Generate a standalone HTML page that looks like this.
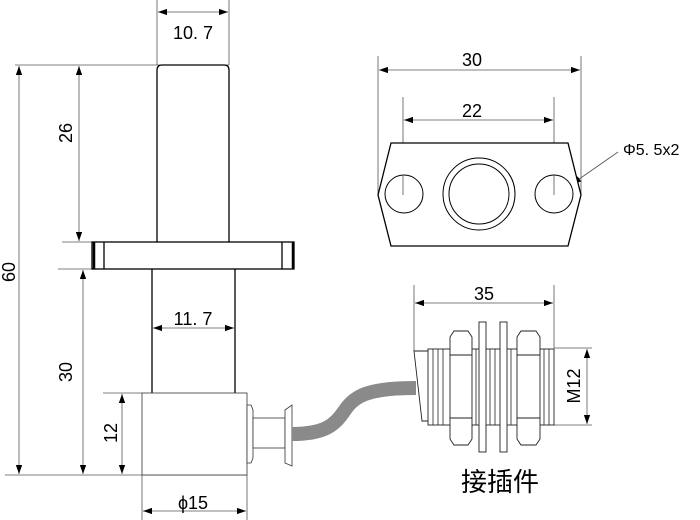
<!DOCTYPE html>
<html><head><meta charset="utf-8"><style>html,body{margin:0;padding:0;background:#fff}svg{display:block}</style></head><body>
<svg width="700" height="520" viewBox="0 0 700 520" xmlns="http://www.w3.org/2000/svg" font-family="Liberation Sans, Noto Sans CJK SC, sans-serif" fill="none">
<defs>
<marker id="a" viewBox="0 0 10 10" refX="10" refY="5" markerWidth="9" markerHeight="9" orient="auto-start-reverse" markerUnits="userSpaceOnUse"><path d="M0,1.5 L10,5 L0,8.5z" fill="#000"/></marker>
</defs>
<g stroke="#555" stroke-width="0.8">
<line x1="157" y1="0" x2="157" y2="65"/><line x1="229" y1="0" x2="229" y2="65"/>
<line x1="15" y1="65" x2="229" y2="65"/>
<line x1="62" y1="242" x2="92" y2="242"/><line x1="58" y1="269" x2="92" y2="269"/>
<line x1="103" y1="393" x2="142" y2="393"/>
<line x1="5" y1="475" x2="247" y2="475"/>
<line x1="142" y1="475" x2="142" y2="520"/><line x1="247" y1="475" x2="247" y2="520"/>
<line x1="158" y1="12" x2="228" y2="12" marker-start="url(#a)" marker-end="url(#a)"/>
<line x1="19" y1="66" x2="19" y2="474" marker-start="url(#a)" marker-end="url(#a)"/>
<line x1="79" y1="66" x2="79" y2="241" marker-start="url(#a)" marker-end="url(#a)"/>
<line x1="83" y1="270" x2="83" y2="474" marker-start="url(#a)" marker-end="url(#a)"/>
<line x1="122" y1="394" x2="122" y2="474" marker-start="url(#a)" marker-end="url(#a)"/>
<line x1="153" y1="328" x2="234" y2="328" marker-start="url(#a)" marker-end="url(#a)"/>
<line x1="143" y1="511" x2="246" y2="511" marker-start="url(#a)" marker-end="url(#a)"/>
<line x1="378" y1="56" x2="378" y2="195"/><line x1="581" y1="56" x2="581" y2="195"/>
<line x1="379" y1="70" x2="580" y2="70" marker-start="url(#a)" marker-end="url(#a)"/>
<line x1="403" y1="97" x2="403" y2="195"/><line x1="554" y1="97" x2="554" y2="195"/>
<line x1="404" y1="120" x2="553" y2="120" marker-start="url(#a)" marker-end="url(#a)"/>
<line x1="618" y1="152" x2="572" y2="184" marker-end="url(#a)"/>
<line x1="414" y1="285" x2="414" y2="351"/><line x1="554" y1="285" x2="554" y2="348"/>
<line x1="415" y1="303" x2="553" y2="303" marker-start="url(#a)" marker-end="url(#a)"/>
<line x1="554" y1="348" x2="592" y2="348"/><line x1="554" y1="425" x2="592" y2="425"/>
<line x1="587" y1="349" x2="587" y2="424" marker-start="url(#a)" marker-end="url(#a)"/>
</g>
<g stroke="#000" stroke-width="1.3" fill="#fff">
<path d="M157,242 V70 Q157,65 162,65 H224 Q229,65 229,70 V242"/>
<rect x="92" y="242" width="202" height="27"/>
<line x1="104" y1="242" x2="104" y2="269"/><line x1="282" y1="242" x2="282" y2="269"/>
<line x1="94" y1="242" x2="94" y2="269" stroke-width="2.5"/><line x1="293" y1="242" x2="293" y2="269" stroke-width="2.5"/>
<line x1="152" y1="269" x2="152" y2="393"/><line x1="235" y1="269" x2="235" y2="393"/>
</g>
<g stroke="#333" stroke-width="0.8" fill="#fff">
<rect x="142" y="393" width="105" height="82"/>
<path d="M247,405 H251 L253,410 V458 L251,463 H247z"/>
<rect x="253" y="418" width="32" height="30"/>
<path d="M285,410 L292,405 V466 L285,463z"/>
</g>
<path d="M292,434 C325,434 335,425 345,410 C355,395 370,388 416,388" stroke="#8a8a8a" stroke-width="14"/>
<g stroke="#000" stroke-width="1" fill="#fff">
<path d="M391,143 H568 L581,195 L568,246 H391 L378,195z" stroke-width="1.3"/>
<circle cx="404" cy="194" r="19"/><circle cx="554" cy="194" r="19"/>
<circle cx="479" cy="194" r="36"/><circle cx="479" cy="194" r="30"/>
</g>
<g stroke="#555" stroke-width="0.8"><line x1="403" y1="175" x2="403" y2="195"/><line x1="554" y1="175" x2="554" y2="195"/></g>
<g stroke="#222" stroke-width="0.9" fill="#fff">
<path d="M414,351 H430 V421 H422z"/>
<rect x="428" y="349" width="126" height="76"/>
<g stroke-width="0.8">
<line x1="433" y1="349" x2="433" y2="425"/><line x1="438" y1="349" x2="438" y2="425"/><line x1="443" y1="349" x2="443" y2="425"/>
<line x1="476" y1="349" x2="476" y2="425"/><line x1="490" y1="349" x2="490" y2="425"/><line x1="495" y1="349" x2="495" y2="425"/><line x1="511" y1="349" x2="511" y2="425"/>
<line x1="544" y1="349" x2="544" y2="425"/><line x1="549" y1="349" x2="549" y2="425"/>
</g>
<path d="M450,337 L454,331 H468 L472,337 V439 L468,445 H454 L450,439z"/>
<line x1="450" y1="355" x2="472" y2="355"/><line x1="450" y1="418" x2="472" y2="418"/>
<path d="M517,337 L521,331 H536 L540,337 V439 L536,445 H521 L517,439z"/>
<line x1="517" y1="355" x2="540" y2="355"/><line x1="517" y1="418" x2="540" y2="418"/>
<rect x="479" y="322" width="7" height="130"/><rect x="500" y="322" width="7" height="130"/>
</g>
<g fill="#000" font-size="18" text-anchor="middle">
<text x="193" y="39">10. 7</text>
<text x="193" y="325">11. 7</text>
<text x="193" y="509">ϕ15</text>
<text transform="translate(72,133) rotate(-90)">26</text>
<text transform="translate(15,272) rotate(-90)">60</text>
<text transform="translate(72,372) rotate(-90)">30</text>
<text transform="translate(117,433) rotate(-90)">12</text>
<text x="472" y="66">30</text>
<text x="472" y="117">22</text>
<text x="484" y="300">35</text>
<text transform="translate(580,386) rotate(-90)">M12</text>
<text x="623" y="155" font-size="16" text-anchor="start">Φ5. 5x2</text>
<text x="500" y="491" font-size="26" font-family="Noto Sans CJK SC, sans-serif">接插件</text>
</g>
</svg>
</body></html>
